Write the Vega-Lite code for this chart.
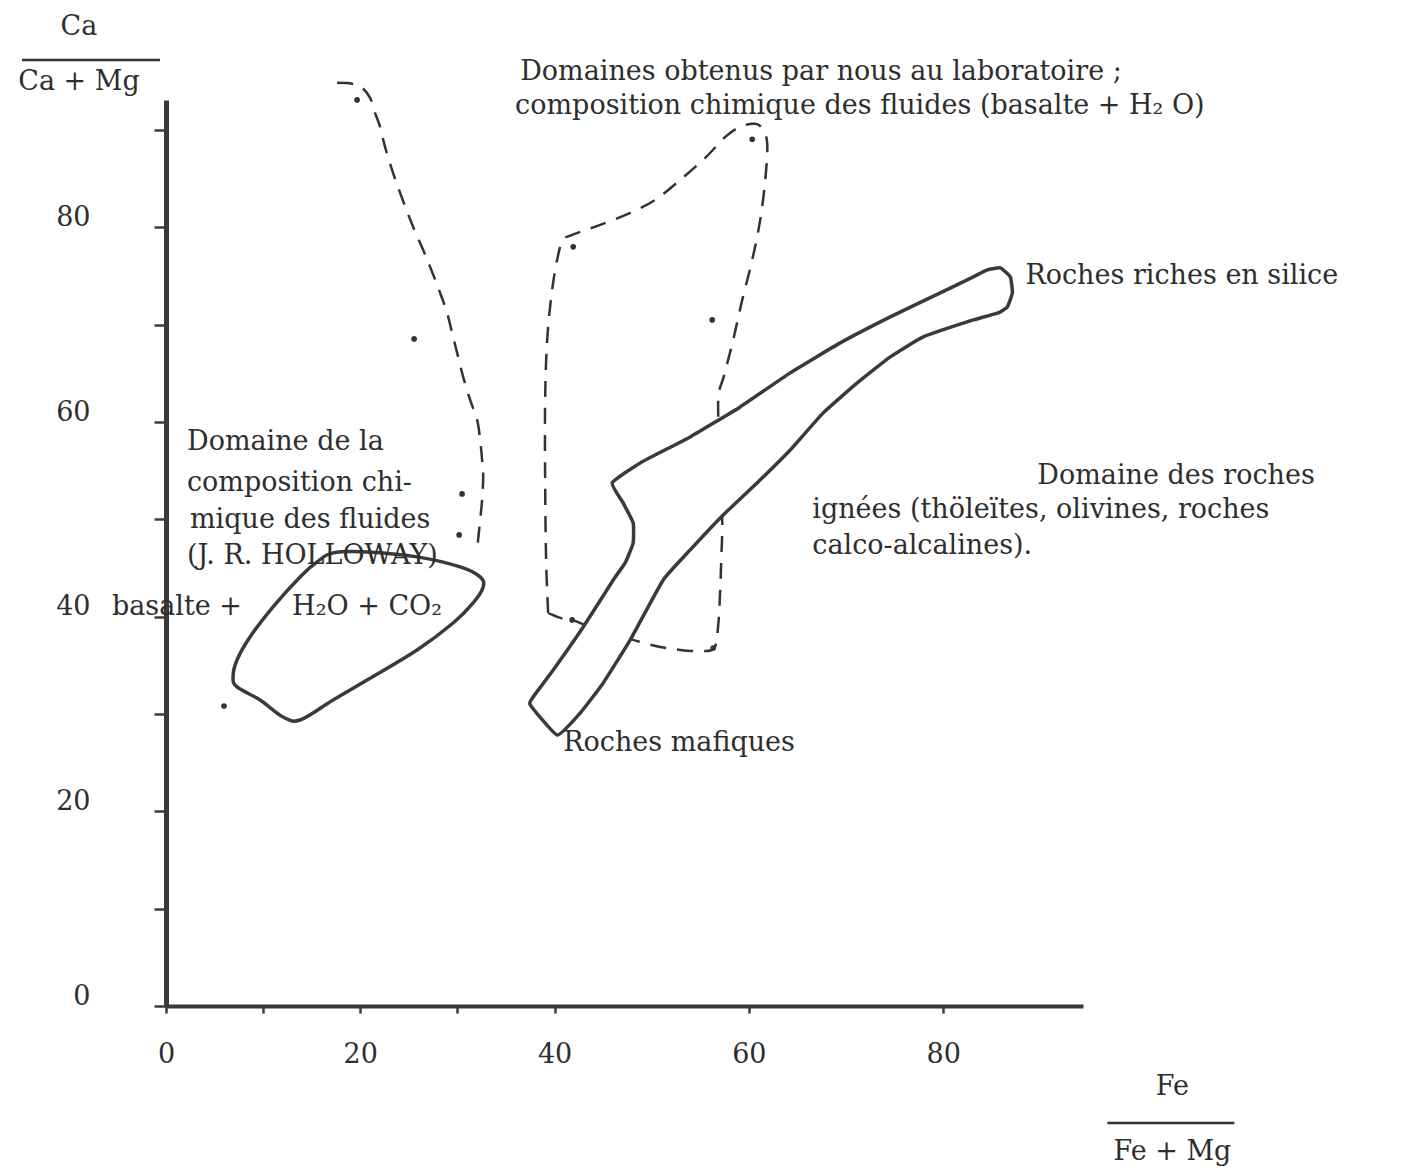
{
  "$schema": "https://vega.github.io/schema/vega-lite/v6.json",
  "width": 917,
  "height": 906,
  "autosize": {"type": "none"},
  "padding": {"left": 166, "top": 100, "right": 323, "bottom": 161},
  "background": "white",
  "config": {
    "view": {"stroke": null},
    "text": {"font": "DejaVu Serif", "fontSize": 27, "color": "#2e2e2e"}
  },
  "datasets": {
    "dash": [
      {"s": "left", "o": 1, "x": 17.61, "y": 94.86},
      {"s": "left", "o": 2, "x": 19.16, "y": 94.76},
      {"s": "left", "o": 3, "x": 20.19, "y": 94.35},
      {"s": "left", "o": 4, "x": 21.01, "y": 93.32},
      {"s": "left", "o": 5, "x": 21.52, "y": 91.78},
      {"s": "left", "o": 6, "x": 22.04, "y": 90.34},
      {"s": "left", "o": 7, "x": 22.55, "y": 88.28},
      {"s": "left", "o": 8, "x": 23.27, "y": 85.92},
      {"s": "left", "o": 9, "x": 24.10, "y": 83.56},
      {"s": "left", "o": 10, "x": 25.44, "y": 80.06},
      {"s": "left", "o": 11, "x": 26.47, "y": 77.70},
      {"s": "left", "o": 12, "x": 27.19, "y": 75.95},
      {"s": "left", "o": 13, "x": 28.22, "y": 73.28},
      {"s": "left", "o": 14, "x": 28.94, "y": 71.22},
      {"s": "left", "o": 15, "x": 29.45, "y": 69.17},
      {"s": "left", "o": 16, "x": 29.97, "y": 67.11},
      {"s": "left", "o": 17, "x": 30.59, "y": 64.65},
      {"s": "left", "o": 18, "x": 31.31, "y": 62.28},
      {"s": "left", "o": 19, "x": 32.03, "y": 60.23},
      {"s": "left", "o": 20, "x": 32.34, "y": 58.17},
      {"s": "left", "o": 21, "x": 32.54, "y": 56.12},
      {"s": "left", "o": 22, "x": 32.65, "y": 54.37},
      {"s": "left", "o": 23, "x": 32.54, "y": 52.00},
      {"s": "left", "o": 24, "x": 32.34, "y": 49.95},
      {"s": "left", "o": 25, "x": 32.10, "y": 47.60},
      {"s": "mid", "o": 1, "x": 39.34, "y": 40.39},
      {"s": "mid", "o": 2, "x": 39.13, "y": 45.84},
      {"s": "mid", "o": 3, "x": 39.03, "y": 54.06},
      {"s": "mid", "o": 4, "x": 39.03, "y": 62.28},
      {"s": "mid", "o": 5, "x": 39.24, "y": 68.45},
      {"s": "mid", "o": 6, "x": 39.75, "y": 73.59},
      {"s": "mid", "o": 7, "x": 40.37, "y": 77.18},
      {"s": "mid", "o": 8, "x": 40.89, "y": 78.73},
      {"s": "mid", "o": 9, "x": 41.81, "y": 79.24},
      {"s": "mid", "o": 10, "x": 44.70, "y": 80.27},
      {"s": "mid", "o": 11, "x": 47.79, "y": 81.50},
      {"s": "mid", "o": 12, "x": 50.36, "y": 82.84},
      {"s": "mid", "o": 13, "x": 52.94, "y": 84.89},
      {"s": "mid", "o": 14, "x": 55.51, "y": 87.15},
      {"s": "mid", "o": 15, "x": 57.57, "y": 89.31},
      {"s": "mid", "o": 16, "x": 59.11, "y": 90.34},
      {"s": "mid", "o": 17, "x": 60.66, "y": 90.65},
      {"s": "mid", "o": 18, "x": 61.48, "y": 90.03},
      {"s": "mid", "o": 19, "x": 61.90, "y": 88.49},
      {"s": "mid", "o": 20, "x": 61.69, "y": 84.89},
      {"s": "mid", "o": 21, "x": 61.17, "y": 80.78},
      {"s": "mid", "o": 22, "x": 60.35, "y": 76.67},
      {"s": "mid", "o": 23, "x": 59.32, "y": 72.56},
      {"s": "mid", "o": 24, "x": 58.39, "y": 68.45},
      {"s": "mid", "o": 25, "x": 57.47, "y": 64.85},
      {"s": "mid", "o": 26, "x": 56.85, "y": 62.28},
      {"s": "mid", "o": 27, "x": 57.05, "y": 56.12},
      {"s": "mid", "o": 28, "x": 57.26, "y": 49.95},
      {"s": "mid", "o": 29, "x": 57.16, "y": 45.84},
      {"s": "mid", "o": 30, "x": 57.05, "y": 42.75},
      {"s": "mid", "o": 31, "x": 56.85, "y": 39.16},
      {"s": "mid", "o": 32, "x": 56.44, "y": 36.79},
      {"s": "mid", "o": 33, "x": 55.00, "y": 36.48},
      {"s": "mid", "o": 34, "x": 52.94, "y": 36.59},
      {"s": "mid", "o": 35, "x": 50.88, "y": 36.90},
      {"s": "mid", "o": 36, "x": 48.82, "y": 37.41},
      {"s": "mid", "o": 37, "x": 46.76, "y": 38.03},
      {"s": "mid", "o": 38, "x": 43.15, "y": 39.16},
      {"s": "mid", "o": 39, "x": 41.81, "y": 39.67},
      {"s": "mid", "o": 40, "x": 40.58, "y": 39.88},
      {"s": "mid", "o": 41, "x": 39.34, "y": 40.39}
    ],
    "band": [
      {"o": 1, "x": 45.93, "y": 53.75},
      {"o": 2, "x": 48.82, "y": 55.81},
      {"o": 3, "x": 53.96, "y": 58.48},
      {"o": 4, "x": 59.11, "y": 61.56},
      {"o": 5, "x": 64.26, "y": 65.06},
      {"o": 6, "x": 69.41, "y": 68.14},
      {"o": 7, "x": 74.56, "y": 70.81},
      {"o": 8, "x": 79.71, "y": 73.28},
      {"o": 9, "x": 83.11, "y": 74.92},
      {"o": 10, "x": 84.55, "y": 75.64},
      {"o": 11, "x": 85.89, "y": 75.85},
      {"o": 12, "x": 86.92, "y": 74.92},
      {"o": 13, "x": 87.13, "y": 73.28},
      {"o": 14, "x": 86.61, "y": 71.84},
      {"o": 15, "x": 85.68, "y": 71.22},
      {"o": 16, "x": 83.11, "y": 70.50},
      {"o": 17, "x": 77.96, "y": 68.76},
      {"o": 18, "x": 74.56, "y": 66.70},
      {"o": 19, "x": 71.16, "y": 64.03},
      {"o": 20, "x": 67.66, "y": 60.95},
      {"o": 21, "x": 64.26, "y": 57.14},
      {"o": 22, "x": 61.00, "y": 53.90},
      {"o": 23, "x": 57.36, "y": 50.46},
      {"o": 24, "x": 53.96, "y": 46.87},
      {"o": 25, "x": 51.18, "y": 43.78},
      {"o": 26, "x": 47.79, "y": 37.62},
      {"o": 27, "x": 45.01, "y": 33.20},
      {"o": 28, "x": 42.64, "y": 30.11},
      {"o": 29, "x": 40.27, "y": 27.85},
      {"o": 30, "x": 37.49, "y": 30.94},
      {"o": 31, "x": 37.80, "y": 31.76},
      {"o": 32, "x": 39.86, "y": 34.53},
      {"o": 33, "x": 42.95, "y": 38.95},
      {"o": 34, "x": 46.04, "y": 43.78},
      {"o": 35, "x": 47.27, "y": 45.53},
      {"o": 36, "x": 48.09, "y": 47.58},
      {"o": 37, "x": 48.09, "y": 49.64},
      {"o": 38, "x": 47.06, "y": 51.70}
    ],
    "holloway": [
      {"o": 1, "x": 6.90, "y": 33.81},
      {"o": 2, "x": 7.31, "y": 35.56},
      {"o": 3, "x": 8.65, "y": 37.92},
      {"o": 4, "x": 11.02, "y": 41.01},
      {"o": 5, "x": 13.80, "y": 44.09},
      {"o": 6, "x": 15.55, "y": 45.63},
      {"o": 7, "x": 17.20, "y": 46.56},
      {"o": 8, "x": 20.70, "y": 46.66},
      {"o": 9, "x": 25.85, "y": 46.15},
      {"o": 10, "x": 30.28, "y": 45.12},
      {"o": 11, "x": 32.34, "y": 44.09},
      {"o": 12, "x": 32.65, "y": 43.06},
      {"o": 13, "x": 31.62, "y": 41.42},
      {"o": 14, "x": 29.56, "y": 39.36},
      {"o": 15, "x": 25.85, "y": 36.59},
      {"o": 16, "x": 20.70, "y": 33.50},
      {"o": 17, "x": 17.20, "y": 31.45},
      {"o": 18, "x": 13.80, "y": 29.39},
      {"o": 19, "x": 12.05, "y": 29.70},
      {"o": 20, "x": 9.68, "y": 31.45},
      {"o": 21, "x": 7.31, "y": 32.79}
    ],
    "pts": [
      {"x": 19.67, "y": 93.11},
      {"x": 25.54, "y": 68.55},
      {"x": 30.48, "y": 52.62},
      {"x": 30.18, "y": 48.41},
      {"x": 5.97, "y": 30.83},
      {"x": 60.35, "y": 89.06},
      {"x": 41.92, "y": 78.01},
      {"x": 56.23, "y": 70.50},
      {"x": 41.81, "y": 39.67},
      {"x": 56.33, "y": 36.79}
    ],
    "labels": [
      {"x": 36.46, "y": 95.99, "label": "Domaines obtenus par nous au laboratoire  ;"},
      {"x": 35.94, "y": 92.50, "label": "composition chimique des fluides (basalte + H₂ O)"},
      {"x": 88.47, "y": 75.03, "label": "Roches riches en silice"},
      {"x": 89.70, "y": 54.47, "label": "Domaine  des roches"},
      {"x": 66.53, "y": 50.98, "label": "ignées (thöleïtes, olivines, roches"},
      {"x": 66.53, "y": 47.28, "label": "calco-alcalines)."},
      {"x": 2.16, "y": 57.97, "label": "Domaine de la"},
      {"x": 2.16, "y": 53.75, "label": "composition chi-"},
      {"x": 2.47, "y": 49.95, "label": "mique des fluides"},
      {"x": 2.16, "y": 46.25, "label": "(J. R. HOLLOWAY)"},
      {"x": -5.56, "y": 41.01, "label": "basalte +"},
      {"x": 12.98, "y": 41.01, "label": "H₂O + CO₂"},
      {"x": 40.89, "y": 27.03, "label": "Roches mafiques"}
    ],
    "titles": [
      {"x": -8.96, "y": 100.62, "label": "Ca"},
      {"x": -8.96, "y": 94.96, "label": "Ca + Mg"},
      {"x": 103.6, "y": -8.32, "label": "Fe"},
      {"x": 103.6, "y": -15.0, "label": "Fe + Mg"}
    ],
    "bars": [
      {"x": -14.83, "x2": -0.62, "y": 97.22},
      {"x": 96.91, "x2": 109.99, "y": -12.02}
    ]
  },
  "encoding": {
    "x": {
      "field": "x",
      "type": "quantitative",
      "scale": {"domain": [0, 94.4], "nice": false, "zero": false},
      "axis": {
        "title": null,
        "values": [0, 10, 20, 30, 40, 60, 80],
        "labelExpr": "(datum.value == 10 || datum.value == 30) ? '' : datum.label",
        "grid": false,
        "domainColor": "#3a3a3a",
        "domainWidth": 4,
        "tickColor": "#3a3a3a",
        "tickWidth": 2.5,
        "tickSize": 7,
        "labelPadding": 28,
        "labelFont": "DejaVu Serif",
        "labelFontSize": 27,
        "labelColor": "#2e2e2e",
        "labelFlush": false,
        "labelOverlap": false
      }
    },
    "y": {
      "field": "y",
      "type": "quantitative",
      "scale": {"domain": [0, 93.1], "nice": false, "zero": false},
      "axis": {
        "title": null,
        "values": [0, 10, 20, 30, 40, 50, 60, 70, 80, 90],
        "labelExpr": "(datum.value % 20 == 0 && datum.value <= 80) ? datum.label : ''",
        "grid": false,
        "domainColor": "#3a3a3a",
        "domainWidth": 5,
        "tickColor": "#3a3a3a",
        "tickWidth": 2.5,
        "tickSize": 12,
        "labelPadding": 64,
        "labelOffset": -10,
        "labelFont": "DejaVu Serif",
        "labelFontSize": 27,
        "labelColor": "#2e2e2e",
        "labelFlush": false,
        "labelOverlap": false
      }
    }
  },
  "layer": [
    {
      "data": {"name": "dash"},
      "mark": {"type": "line", "interpolate": "cardinal", "stroke": "#333333", "strokeWidth": 2.5, "strokeDash": [16, 11]},
      "encoding": {"detail": {"field": "s"}, "order": {"field": "o", "type": "quantitative"}}
    },
    {
      "data": {"name": "band"},
      "mark": {"type": "line", "interpolate": "cardinal-closed", "tension": 0.6, "stroke": "#3a3a3a", "strokeWidth": 3.5, "fill": "white", "strokeJoin": "round"},
      "encoding": {"order": {"field": "o", "type": "quantitative"}}
    },
    {
      "data": {"name": "holloway"},
      "mark": {"type": "line", "interpolate": "cardinal-closed", "stroke": "#3a3a3a", "strokeWidth": 3.5},
      "encoding": {"order": {"field": "o", "type": "quantitative"}}
    },
    {
      "data": {"name": "pts"},
      "mark": {"type": "point", "filled": true, "size": 32, "color": "#333333", "opacity": 1}
    },
    {
      "data": {"name": "labels"},
      "mark": {"type": "text", "align": "left", "baseline": "middle"},
      "encoding": {"text": {"field": "label"}}
    },
    {
      "data": {"name": "titles"},
      "mark": {"type": "text", "align": "center", "baseline": "middle"},
      "encoding": {"text": {"field": "label"}}
    },
    {
      "data": {"name": "bars"},
      "mark": {"type": "rule", "stroke": "#333333", "strokeWidth": 2.5},
      "encoding": {"x2": {"field": "x2"}}
    }
  ]
}
